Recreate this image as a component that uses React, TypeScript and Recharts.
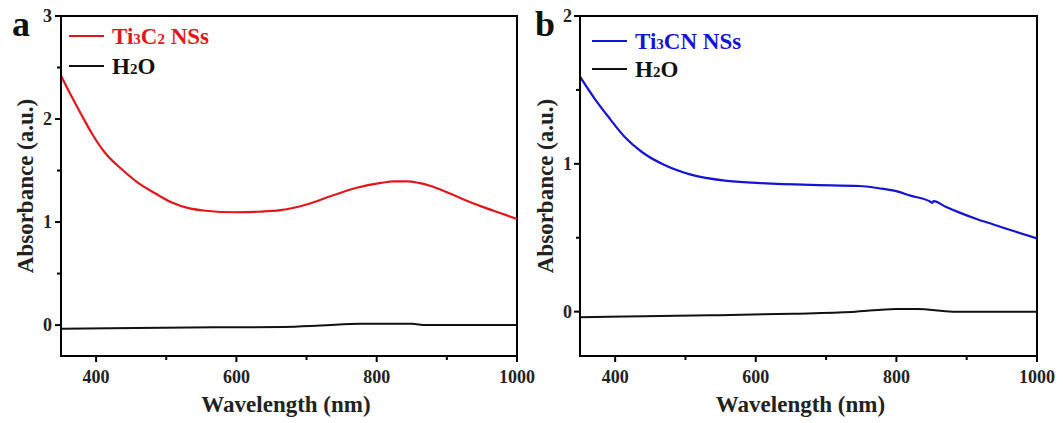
import React from 'react';
import { LineChart, Line, XAxis, YAxis, ReferenceArea, Legend, Label } from 'recharts';

const FONT = '"Liberation Serif", "Times New Roman", serif';

// Panel a: Ti3C2 NSs
const tiCWavelength = [350, 365, 380, 394, 413, 437, 460, 484, 508, 532, 556, 599, 630, 663, 700, 734, 770, 806, 825, 844, 860, 877, 900, 924, 950, 975, 1000];
const tiCValues = [2.42, 2.22, 2.03, 1.86, 1.67, 1.51, 1.38, 1.28, 1.19, 1.135, 1.11, 1.095, 1.10, 1.115, 1.17, 1.25, 1.33, 1.38, 1.395, 1.395, 1.38, 1.35, 1.29, 1.22, 1.15, 1.09, 1.03];
const waterAWavelength = [350, 420, 570, 667, 720, 777, 820, 850, 870, 1000];
const waterAValues = [-0.035, -0.03, -0.022, -0.018, -0.005, 0.012, 0.013, 0.012, 0.0, 0.0];

// Panel b: Ti3CN NSs
const tiCNWavelength = [350, 371, 390, 414, 438, 471, 509, 556, 606, 677, 748, 775, 795, 820, 849, 851, 853, 870, 890, 915, 938, 970, 1000];
const tiCNValues = [1.59, 1.44, 1.32, 1.18, 1.08, 0.99, 0.925, 0.886, 0.87, 0.857, 0.85, 0.835, 0.82, 0.785, 0.742, 0.736, 0.748, 0.71, 0.67, 0.625, 0.59, 0.54, 0.495];
const waterBWavelength = [350, 416, 535, 653, 737, 800, 830, 880, 1000];
const waterBValues = [-0.038, -0.032, -0.025, -0.014, -0.002, 0.018, 0.018, 0.0, 0.0];

const xTicks = [400, 500, 600, 700, 800, 900, 1000];
const xMajor = [400, 600, 800, 1000];
const yTicksA = [0, 0.5, 1, 1.5, 2, 2.5, 3];
const yTicksB = [0, 0.5, 1, 1.5, 2];
const yMajor = [0, 1, 2, 3];

const seriesNamesA = ['Ti3C2 NSs', 'H2O'];
const seriesNamesB = ['Ti3CN NSs', 'H2O'];
const panelLabels = ['a', 'b'];
const xTitle = 'Wavelength (nm)';
const yTitle = 'Absorbance (a.u.)';

const RED = '#e3161c';
const BLUE = '#1414d6';

const toData = (xs: number[], ys: number[]) => xs.map((x, i) => ({ x, y: ys[i] }));

const chem = (s: string, size: number) =>
  s.split(/(\d+)/).filter((p) => p !== '').map((p, i) =>
    /^\d+$/.test(p) ? (
      <span key={i} style={{ fontSize: size }}>{p}</span>
    ) : (
      <span key={i}>{p}</span>
    )
  );

const XTick = (props: any) => {
  const { x, y, payload } = props;
  const major = xMajor.includes(payload.value);
  return (
    <g>
      <line x1={x} x2={x} y1={y} y2={y + (major ? 6 : 4)} stroke="#000" strokeWidth={2} />
      {major && (
        <text x={x} y={y + 27} textAnchor="middle" fontFamily={FONT} fontWeight="bold" fontSize={18} fill="#222">
          {payload.value}
        </text>
      )}
    </g>
  );
};

const makeYTick = (gap: number) => (props: any) => {
  const { x, y, payload } = props;
  const major = yMajor.includes(payload.value);
  return (
    <g>
      <line x1={x} x2={x - (major ? 6 : 4)} y1={y} y2={y} stroke="#000" strokeWidth={2} />
      {major && (
        <text x={x - gap} y={y + 6} textAnchor="end" fontFamily={FONT} fontWeight="bold" fontSize={18} fill="#222">
          {payload.value}
        </text>
      )}
    </g>
  );
};

const LegendBox = ({ names, colors, textColors, rowH }: any) => (
  <div style={{ fontFamily: FONT, fontWeight: 'bold', fontSize: 23 }}>
    {names.map((n: string, i: number) => (
      <div key={n} style={{ display: 'flex', alignItems: 'center', height: rowH, whiteSpace: 'nowrap' }}>
        <div style={{ width: 35, height: 2.5, background: colors[i], marginRight: 8 }} />
        <span style={{ color: textColors[i], lineHeight: 1 }}>{chem(n, 15)}</span>
      </div>
    ))}
  </div>
);

const Panel = (p: any) => {
  const { width, left, yWidth, rightMargin, yDomain, yTicks, main, water, color, names, legendPos, rowH, yLabelX, xLabelShift, tickGap } = p;
  return (
    <div style={{ position: 'absolute', left, top: 0 }}>
      <LineChart width={width} height={423} margin={{ top: 16, right: rightMargin, bottom: 0, left: 0 }}>
        <XAxis
          dataKey="x"
          type="number"
          domain={[350, 1000]}
          ticks={xTicks}
          interval={0}
          allowDataOverflow
          height={67}
          tickSize={0}
          tickMargin={0}
          tick={<XTick />}
          axisLine={{ stroke: '#000', strokeWidth: 2 }}
          tickLine={false}
        >
          <Label
            content={(lp: any) => {
              const vb = lp.viewBox;
              return (
                <text x={vb.x + vb.width / 2 + xLabelShift} y={vb.y + 56} textAnchor="middle" fontFamily={FONT} fontWeight="bold" fontSize={23} fill="#222">
                  {xTitle}
                </text>
              );
            }}
          />
        </XAxis>
        <YAxis
          type="number"
          domain={yDomain}
          ticks={yTicks}
          interval={0}
          allowDataOverflow
          width={yWidth}
          tickSize={0}
          tickMargin={0}
          tick={makeYTick(tickGap)}
          axisLine={{ stroke: '#000', strokeWidth: 2 }}
          tickLine={false}
        >
          <Label
            content={(lp: any) => {
              const vb = lp.viewBox;
              const cx = yLabelX;
              const cy = vb.y + vb.height / 2;
              return (
                <text x={cx} y={cy} transform={`rotate(-90 ${cx} ${cy})`} textAnchor="middle" fontFamily={FONT} fontWeight="bold" fontSize={23} fill="#222">
                  {yTitle}
                </text>
              );
            }}
          />
        </YAxis>
        <ReferenceArea x1={350} x2={1000} y1={yDomain[0]} y2={yDomain[1]} fill="none" stroke="#000" strokeWidth={2} fillOpacity={0} ifOverflow="visible" />
        <Line data={water} dataKey="y" type="monotone" stroke="#111" strokeWidth={2} dot={false} isAnimationActive={false} />
        <Line data={main} dataKey="y" type="monotone" stroke={color} strokeWidth={2.2} dot={false} isAnimationActive={false} />
        <Legend
          layout="vertical"
          verticalAlign="middle"
          align="center"
          wrapperStyle={{ position: 'absolute', top: legendPos[1], left: legendPos[0], width: 'auto', height: 'auto' }}
          content={() => <LegendBox names={names} colors={[color, '#111']} textColors={[color, '#111']} rowH={rowH} />}
        />
      </LineChart>
    </div>
  );
};

export default function App() {
  return (
    <div style={{ position: 'absolute', left: 0, top: 0, width: 1063, height: 423, background: '#fff', overflow: 'hidden' }}>
      <Panel
        width={545}
        left={0}
        yWidth={61}
        rightMargin={28}
        yDomain={[-0.3, 3]}
        yTicks={yTicksA}
        main={toData(tiCWavelength, tiCValues)}
        water={toData(waterAWavelength, waterAValues)}
        color={RED}
        names={seriesNamesA}
        legendPos={[69, 21]}
        rowH={30}
        yLabelX={33}
        xLabelShift={-3}
        tickGap={9}
      />
      <Panel
        width={533}
        left={530}
        yWidth={50}
        rightMargin={26}
        yDomain={[-0.3, 2]}
        yTicks={yTicksB}
        main={toData(tiCNWavelength, tiCNValues)}
        water={toData(waterBWavelength, waterBValues)}
        color={BLUE}
        names={seriesNamesB}
        legendPos={[62, 27]}
        rowH={28}
        yLabelX={23}
        xLabelShift={-8}
        tickGap={8}
      />
      <div style={{ position: 'absolute', left: 12, top: 6, fontFamily: FONT, fontWeight: 'bold', fontSize: 36, lineHeight: '36px', color: '#111' }}>{panelLabels[0]}</div>
      <div style={{ position: 'absolute', left: 535, top: 6, fontFamily: FONT, fontWeight: 'bold', fontSize: 36, lineHeight: '36px', color: '#111' }}>{panelLabels[1]}</div>
    </div>
  );
}
